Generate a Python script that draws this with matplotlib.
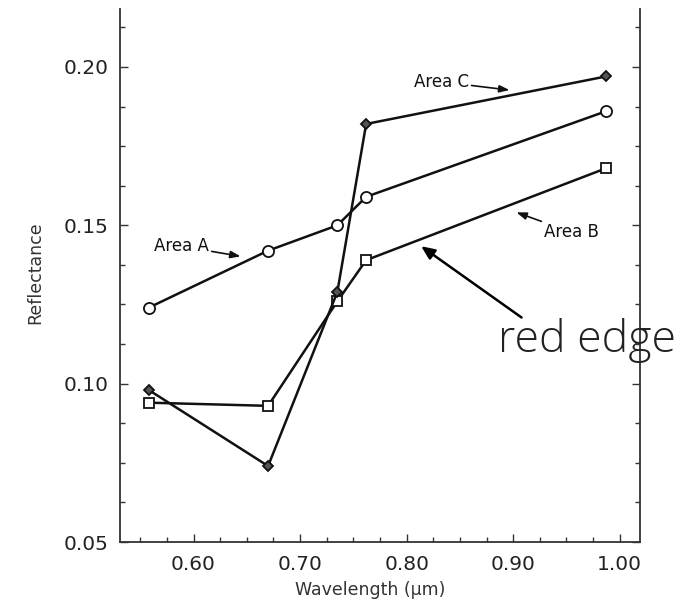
import matplotlib
matplotlib.use("Agg")
import matplotlib.pyplot as plt
from matplotlib.ticker import MultipleLocator

# band centres (um) and reflectance for the three areas
wavelength = [0.558, 0.670, 0.735, 0.762, 0.987]
area_a = [0.124, 0.142, 0.150, 0.159, 0.186]
area_b = [0.094, 0.093, 0.126, 0.139, 0.168]
area_c = [0.098, 0.074, 0.129, 0.182, 0.197]

ink = "#111111"

fig = plt.figure(figsize=(6.84, 6.04), dpi=100)
ax = fig.add_axes([0.1754, 0.1026, 0.7603, 0.8825])

ax.plot(wavelength, area_a, '-o', color=ink, lw=1.8, ms=8, mfc='white', mew=1.3)
ax.plot(wavelength, area_b, '-s', color=ink, lw=1.8, ms=6.5, mfc='white', mew=1.3)
ax.plot(wavelength, area_c, '-D', color=ink, lw=1.8, ms=5.5, mfc='#555555', mew=1.3)

ax.set_xlim(0.531, 1.019)
ax.set_ylim(0.05, 0.2183)
ax.xaxis.set_major_locator(MultipleLocator(0.1))
ax.xaxis.set_minor_locator(MultipleLocator(0.025))
ax.yaxis.set_major_locator(MultipleLocator(0.05))
ax.yaxis.set_minor_locator(MultipleLocator(0.0125))
ax.xaxis.set_major_formatter(plt.FormatStrFormatter('%.2f'))
ax.yaxis.set_major_formatter(plt.FormatStrFormatter('%.2f'))

ax.spines['top'].set_visible(False)
for s in ['left', 'right', 'bottom']:
    ax.spines[s].set_linewidth(1.3)
    ax.spines[s].set_color('#333333')
ax.tick_params(which='both', direction='in', right=True, top=False,
               color='#333333', width=1.0)
ax.tick_params(which='major', length=6, labelsize=14.5, labelcolor='#222222')
ax.tick_params(which='minor', length=3.5)
ax.tick_params(axis='x', which='major', pad=9)
ax.tick_params(axis='y', which='major', pad=8)

ax.set_xlabel('Wavelength (\u00b5m)', fontsize=12.5, color='#333333', va='center')
ax.set_ylabel('Reflectance', fontsize=12.5, color='#333333', va='center')
ax.xaxis.set_label_coords(0.481, -0.09)
ax.yaxis.set_label_coords(-0.1635, 0.505)

small = dict(arrowstyle='-|>,head_length=0.5,head_width=0.18', lw=1.2, color=ink,
             shrinkA=0, shrinkB=0)
ax.annotate('Area C', xy=(0.8965, 0.1927), xytext=(0.8325, 0.1953), fontsize=12,
            ha='center', va='center', color=ink, arrowprops=small)
ax.annotate('Area A', xy=(0.6442, 0.1402), xytext=(0.5887, 0.1434), fontsize=12,
            ha='center', va='center', color=ink, arrowprops=small)
ax.annotate('Area B', xy=(0.903, 0.1541), xytext=(0.9548, 0.1478), fontsize=12,
            ha='center', va='center', color=ink, arrowprops=small)

ax.annotate('', xy=(0.8136, 0.1434), xytext=(0.9078, 0.1209),
            arrowprops=dict(arrowstyle='-|>,head_length=0.8,head_width=0.35',
                            lw=1.8, color='black', shrinkA=0, shrinkB=0))
ax.text(0.886, 0.1135, 'red edge', fontsize=32, family='Open Sans', fontweight=300,
        ha='left', va='center', color='#222222', clip_on=False)

fig.savefig('out.png', dpi=100)
